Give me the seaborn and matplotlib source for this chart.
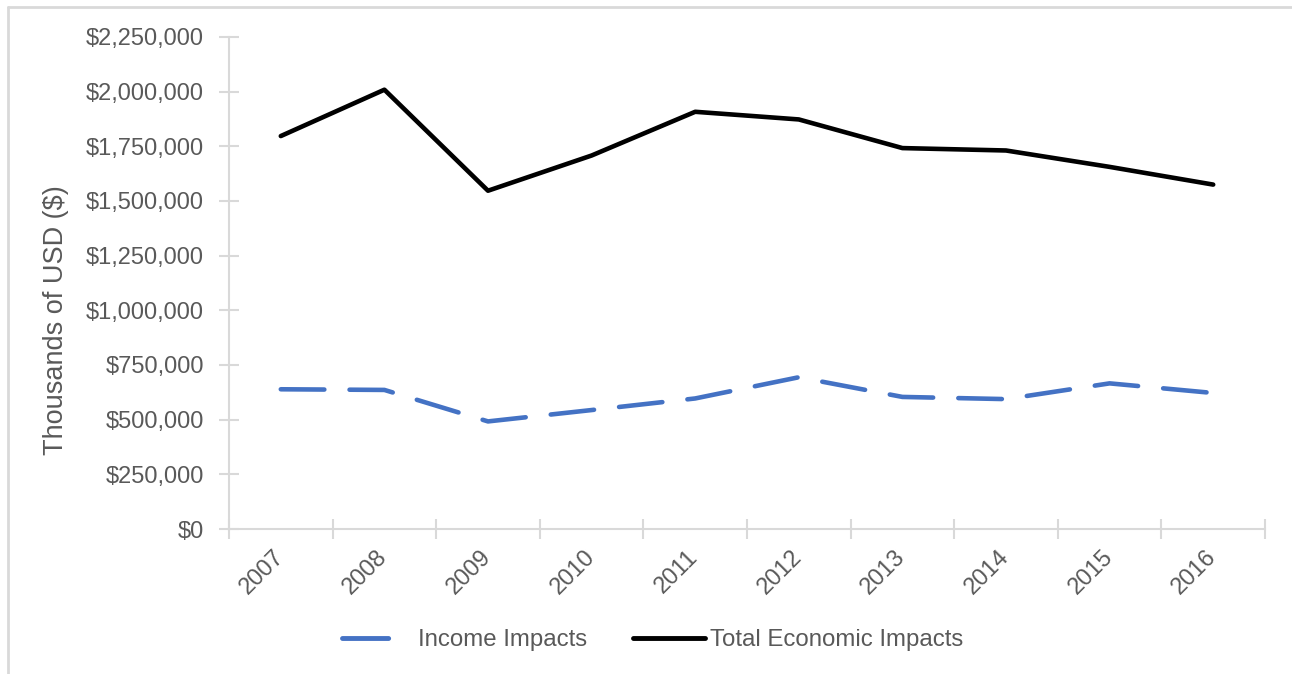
import matplotlib
matplotlib.use("Agg")
import matplotlib.pyplot as plt
from matplotlib.lines import Line2D
from matplotlib.ticker import FuncFormatter, MultipleLocator, FixedLocator
from matplotlib.transforms import ScaledTranslation
import pandas as pd
import seaborn as sns

# Annual economic impacts, thousands of USD
years = ["2007", "2008", "2009", "2010", "2011", "2012", "2013", "2014", "2015", "2016"]
income_impacts = [639000, 636000, 492000, 544000, 597000, 694000, 604000, 594000, 666000, 622000]
total_impacts = [1797000, 2009000, 1547000, 1708000, 1908000, 1873000, 1742000, 1731000, 1656000, 1575000]
series_names = ["Income Impacts", "Total Economic Impacts"]

df = pd.DataFrame({
    "Year": years * 2,
    "Value": income_impacts + total_impacts,
    "Series": [series_names[0]] * len(years) + [series_names[1]] * len(years),
})

sns.set_theme(style="white")
plt.rcParams["font.family"] = ["Liberation Sans", "DejaVu Sans"]

TEXT = "#595959"
AXIS = "#D9D9D9"

fig = plt.figure(figsize=(12.92, 6.74), dpi=100)
ax = fig.add_axes([229 / 1292, 1 - 529 / 674, (1265 - 229) / 1292, (529 - 37) / 674])

sns.lineplot(
    data=df, x="Year", y="Value", hue="Series", style="Series",
    palette={"Income Impacts": "#4472C4", "Total Economic Impacts": "#000000"},
    dashes={"Income Impacts": (9.5, 5.5), "Total Economic Impacts": ""},
    linewidth=3.3, sort=False, ax=ax,
    dash_capstyle="round", solid_capstyle="round",
)

ax.set_xlim(-0.5, len(years) - 0.5)
ax.set_ylim(0, 2250000)
ax.yaxis.set_major_locator(MultipleLocator(250000))
ax.yaxis.set_major_formatter(FuncFormatter(lambda v, p: f"${v:,.0f}"))

# category boundaries carry the tick marks, labels sit at the centres
ax.xaxis.set_minor_locator(FixedLocator([i - 0.5 for i in range(len(years) + 1)]))
ax.tick_params(axis="x", which="major", bottom=True, length=0, pad=12, labelsize=17, labelcolor=TEXT)
ax.tick_params(axis="x", which="minor", bottom=True, length=15, width=1.5, direction="inout", color=AXIS)
ax.tick_params(axis="y", which="major", left=True, length=15, width=1.5, direction="inout", color=AXIS,
               pad=10.5, labelsize=17, labelcolor=TEXT)
shift = ScaledTranslation(-8 / 100, 0, fig.dpi_scale_trans)
for lbl in ax.get_xticklabels():
    lbl.set_rotation(45)
    lbl.set_ha("right")
    lbl.set_va("top")
    lbl.set_rotation_mode("anchor")
    lbl.set_transform(lbl.get_transform() + shift)

for side in ["top", "right"]:
    ax.spines[side].set_visible(False)
for side in ["left", "bottom"]:
    ax.spines[side].set_color(AXIS)
    ax.spines[side].set_linewidth(1.5)

ax.set_xlabel("")
ax.set_ylabel("Thousands of USD ($)", fontsize=19.5, color=TEXT)
ax.yaxis.set_label_coords(-0.167, 0.425)
ax.yaxis.label.set_verticalalignment("center")

handles, labels = ax.get_legend_handles_labels()
ax.get_legend().remove()
leg = fig.legend(handles, labels, loc="center", bbox_to_anchor=(0.505, 1 - 640 / 674),
                 ncol=2, frameon=False, fontsize=17.3, handlelength=3.0,
                 handletextpad=0.2, columnspacing=1.9)
for t in leg.get_texts():
    t.set_color(TEXT)
for h in leg.get_lines():
    h.set_linewidth(3.5)

# chart area outline
fig.add_artist(Line2D([8 / 1292, 8 / 1292], [0, 1 - 7 / 674], transform=fig.transFigure,
                      color=AXIS, linewidth=2))
fig.add_artist(Line2D([8 / 1292, 1], [1 - 7 / 674, 1 - 7 / 674], transform=fig.transFigure,
                      color=AXIS, linewidth=2))

fig.savefig("out.png", dpi=100, facecolor="white")
